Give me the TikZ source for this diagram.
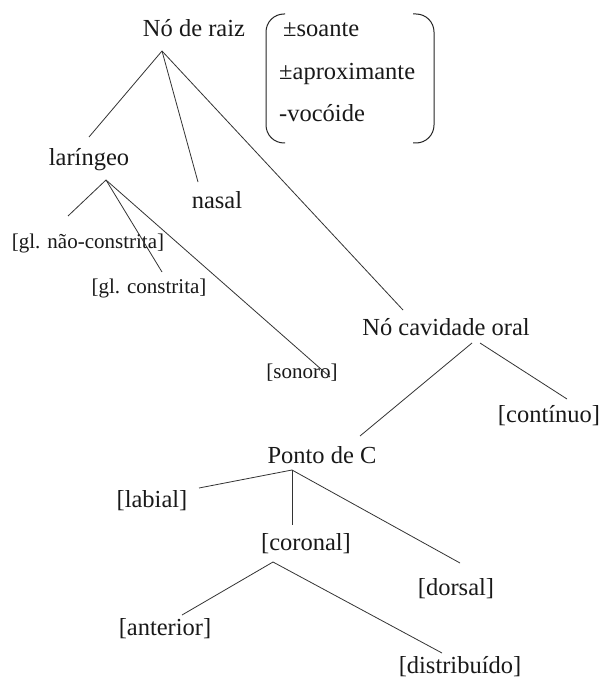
\documentclass[tikz,border=0pt]{standalone}
\usepackage{fontspec}
\setmainfont{Liberation Serif}
\begin{document}
\begin{tikzpicture}[x=1pt,y=-1pt,
  lbl/.style={inner sep=0pt,anchor=base,text=black!90,font=\fontsize{24.5}{28}\selectfont},
  small/.style={lbl,font=\fontsize{21}{25}\selectfont},
  feat/.style={lbl,anchor=base west},
  link/.style={draw=black!80,line width=0.8pt},
  brk/.style={draw=black!85,line width=1pt,rounded corners=18pt}]
\useasboundingbox[fill=white] (0,0) rectangle (603,679);
% nodes
\node[lbl] (raiz) at (194,37) {Nó de raiz};
\node[feat] (soante) at (283,37) {±soante};
\node[feat] (aprox) at (279,80) {±aproximante};
\node[feat] (vocoide) at (279,122) {-vocóide};
\node[lbl] (laringeo) at (89,165) {laríngeo};
\node[lbl] (nasal) at (217,208) {nasal};
\node[small] (naoconstr) at (88,248) {[gl. não-constrita]};
\node[small] (constr) at (149,293) {[gl. constrita]};
\node[small] (sonoro) at (302,378) {[sonoro]};
\node[lbl] (cavidade) at (446,335) {Nó cavidade oral};
\node[lbl] (continuo) at (549,422) {[contínuo]};
\node[lbl] (ponto) at (322,463) {Ponto de C};
\node[lbl] (labial) at (152,507) {[labial]};
\node[lbl] (coronal) at (306,550) {[coronal]};
\node[lbl] (dorsal) at (456,595) {[dorsal]};
\node[lbl] (anterior) at (165,635) {[anterior]};
\node[lbl] (distrib) at (460,673) {[distribuído]};
% brackets
\draw[brk] (285,14) -- (266,14) -- (266,143) -- (285,143);
\draw[brk] (413,14) -- (434,14) -- (434,143) -- (413,143);
% connectors
\path[link] ([xshift=-32pt,yshift=-14pt]raiz.base) -- ([yshift=28pt]laringeo.base);
\path[link] ([xshift=-32pt,yshift=-14pt]raiz.base) -- ([xshift=-19pt,yshift=26pt]nasal.base);
\path[link] ([xshift=-32pt,yshift=-14pt]raiz.base) -- ([xshift=-43pt,yshift=25pt]cavidade.base);
\path[link] ([xshift=17pt,yshift=-15pt]laringeo.base) -- ([xshift=-20pt,yshift=32pt]naoconstr.base);
\path[link] ([xshift=17pt,yshift=-15pt]laringeo.base) -- ([xshift=13pt,yshift=21pt]constr.base);
\path[link] ([xshift=17pt,yshift=-15pt]laringeo.base) -- ([xshift=28pt,yshift=1pt]sonoro.base);
\path[link] ([xshift=26pt,yshift=-8pt]cavidade.base) -- ([xshift=38pt,yshift=27pt]ponto.base);
\path[link] ([xshift=34pt,yshift=-8pt]cavidade.base) -- ([xshift=18pt,yshift=23pt]continuo.base);
\path[link] ([xshift=-30pt,yshift=-7pt]ponto.base) -- ([xshift=47pt,yshift=19pt]labial.base);
\path[link] ([xshift=-30pt,yshift=-7pt]ponto.base) -- ([xshift=-14pt,yshift=25pt]coronal.base);
\path[link] ([xshift=-30pt,yshift=-7pt]ponto.base) -- ([xshift=4pt,yshift=32pt]dorsal.base);
\path[link] ([xshift=-33pt,yshift=-12pt]coronal.base) -- ([xshift=17pt,yshift=20pt]anterior.base);
\path[link] ([xshift=-33pt,yshift=-12pt]coronal.base) -- ([xshift=-18pt,yshift=20pt]distrib.base);
\end{tikzpicture}
\end{document}
